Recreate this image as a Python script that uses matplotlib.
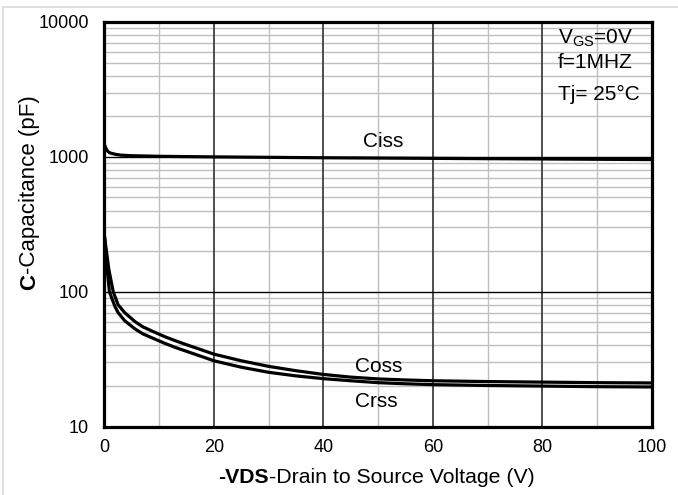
import numpy as np
import matplotlib
matplotlib.use('Agg')
import matplotlib.pyplot as plt
from matplotlib.patches import Rectangle

plt.rcParams['font.family'] = ['Liberation Sans', 'DejaVu Sans']
plt.rcParams['mathtext.fontset'] = 'custom'
plt.rcParams['mathtext.rm'] = 'Liberation Sans'
plt.rcParams['mathtext.it'] = 'Liberation Sans'
plt.rcParams['mathtext.bf'] = 'Liberation Sans:bold'

# values
v_iss = [0, 0.3, 0.6, 1, 2, 3, 5, 10, 20, 40, 60, 80, 100]
ciss = [1230, 1150, 1100, 1070, 1045, 1030, 1020, 1010, 1000, 985, 975, 965, 955]

v_oss = [0, 0.4, 0.8, 1.6, 2.5, 3.7, 5.6, 7, 9, 11, 13, 15, 17.5, 20, 25, 30, 35, 40, 45, 50, 55, 60, 70, 80, 90, 100]
coss = [257, 194, 146, 100, 80, 70, 60, 55, 50.5, 46.5, 43.3, 40.5, 37.4, 34.5, 30.8, 28, 26, 24.4, 23.3, 22.6, 22.2, 21.9, 21.6, 21.4, 21.2, 21.1]

v_rss = [0, 0.3, 0.5, 0.9, 1.9, 2.5, 3.7, 5.6, 7, 9, 11, 13, 15, 17.5, 20, 25, 30, 35, 40, 45, 50, 55, 60, 70, 80, 90, 100]
crss = [257, 185, 146, 100, 78, 70, 61, 53, 48.8, 45, 41.5, 38.6, 36.2, 33.4, 30.8, 27.6, 25.3, 23.8, 22.7, 21.9, 21.2, 20.8, 20.5, 20.2, 20.0, 19.8, 19.7]

xticks = [0, 20, 40, 60, 80, 100]
yticks = [10, 100, 1000, 10000]

fig = plt.figure(figsize=(6.78, 4.95), dpi=100)
fig.patches.append(Rectangle((3 / 678, -0.1), 1.2, 0.1 + 1 - 7 / 495, transform=fig.transFigure,
                             fill=False, edgecolor='#d9d9d9', lw=1.2))
ax = fig.add_axes([0.1541, 0.138, 0.8071, 0.8176])

ax.set_yscale('log')
ax.set_xlim(0, 100)
ax.set_ylim(10, 10000)

# grid
for x in range(10, 100, 20):
    ax.axvline(x, color='#bfbfbf', lw=1.0, zorder=1)
for x in range(20, 100, 20):
    ax.axvline(x, color='#404040', lw=1.3, zorder=2)
for d in [10, 100, 1000]:
    for k in range(2, 10):
        ax.axhline(d * k, color='#bfbfbf', lw=1.0, zorder=1)
for y in [100, 1000]:
    ax.axhline(y, color='black', lw=1.0, zorder=2)

ax.plot(v_iss, ciss, color='black', lw=2.3, zorder=3, solid_joinstyle='round')
ax.plot(v_oss, coss, color='black', lw=2.3, zorder=3, solid_joinstyle='round')
ax.plot(v_rss, crss, color='black', lw=2.3, zorder=3, solid_joinstyle='round')

ax.set_xticks(xticks)
ax.set_xticklabels([str(t) for t in xticks])
ax.set_yticks(yticks)
ax.set_yticklabels([str(t) for t in yticks])
ax.yaxis.set_minor_locator(matplotlib.ticker.NullLocator())
ax.tick_params(length=0, labelsize=13)
ax.tick_params(axis='x', pad=9)
ax.tick_params(axis='y', pad=11)

for s in ax.spines.values():
    s.set_linewidth(2.3)
    s.set_zorder(4)

ax.text(50.9, 1186, 'Ciss', fontsize=15, ha='center', va='baseline')
ax.text(50.2, 25.5, 'Coss', fontsize=15, ha='center', va='baseline')
ax.text(49.6, 14.07, 'Crss', fontsize=15, ha='center', va='baseline')

ax.text(82.9, 6876, r'V$_{\rm GS}$=0V', fontsize=15, va='baseline')
ax.text(82.9, 4566, 'f=1MHZ', fontsize=15, va='baseline')
ax.text(82.9, 2644, 'Tj= 25°C', fontsize=15, va='baseline')

# axis labels: bold part + plain part
r = fig.canvas.get_renderer()
W, H = fig.bbox.width, fig.bbox.height

t1 = fig.text(218 / W, 0.036, '-VDS', fontsize=15.3, weight='bold', ha='left', va='center')
w1 = t1.get_window_extent(r).width
fig.text((218 + w1) / W, 0.036, '-Drain to Source Voltage (V)', fontsize=15.3, ha='left', va='center')

t2 = fig.text(0.044, 1 - 290 / H, 'C', fontsize=16, weight='bold', rotation=90, ha='center', va='bottom')
h2 = t2.get_window_extent(r).height
fig.text(0.044, 1 - 290 / H + h2 / H, '-Capacitance (pF)', fontsize=16, rotation=90, ha='center', va='bottom')

fig.savefig('out.png', dpi=100)
